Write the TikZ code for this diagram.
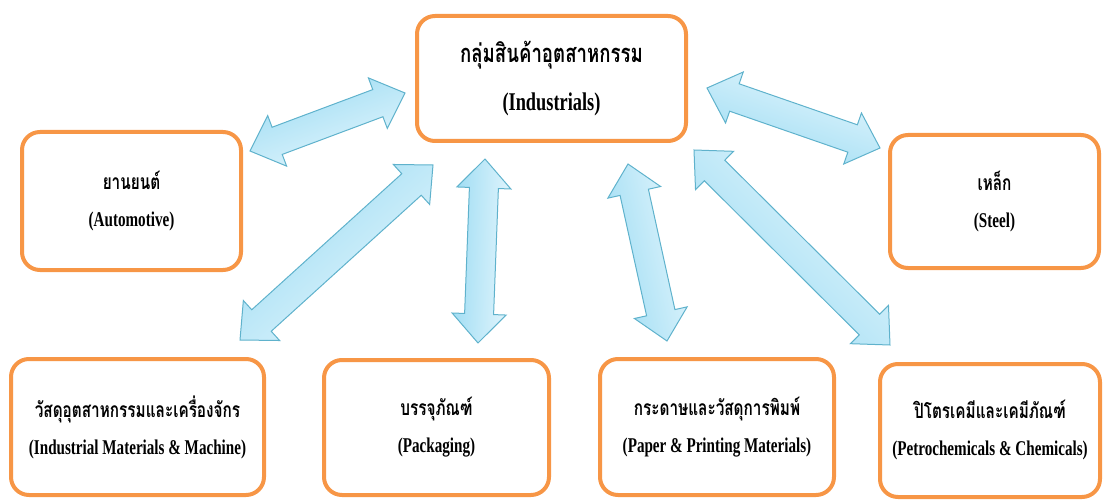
\documentclass[tikz,border=0pt]{standalone}
\usepackage{fontspec}
\setmainfont{Liberation Serif}[FakeStretch=0.72]
\newfontfamily\thaifont[Script=Thai,FakeStretch=0.73]{Loma}
\usetikzlibrary{calc}

\definecolor{boxline}{HTML}{F79646}
\definecolor{arrowline}{HTML}{5FB2CC}
\definecolor{arrowdark}{HTML}{9DDCF3}
\definecolor{arrowlight}{HTML}{E4F6FD}

\tikzset{
  catbox/.style={draw=boxline, line width=4pt, rounded corners=18pt, fill=white,
    align=center, font=\fontsize{21}{37}\selectfont\bfseries},
  hubbox/.style={catbox, font=\fontsize{25.5}{48}\selectfont\bfseries},
  arrowbody/.style={draw=arrowline, line width=1pt, line join=miter,
    left color=arrowdark, right color=arrowlight}
}

% block arrow with a head at both ends
\newcommand{\headlen}{29pt}
\newcommand{\headhalf}{27pt}
\newcommand{\shafthalf}{14.5pt}
\newcommand{\biarrow}[2]{%
  \path let \p1=(#2), \p2=(#1), \n1={atan2(\y2-\y1,\x2-\x1)} in
    \pgfextra{\xdef\arrowang{\n1}};
  \path[arrowbody, shading angle=\arrowang]
    (#1) -- ($(#1)!\headlen!(#2)!\headhalf!90:(#2)$)
    -- ($(#1)!\headlen!(#2)!\shafthalf!90:(#2)$)
    -- ($(#2)!\headlen!(#1)!\shafthalf!-90:(#1)$)
    -- ($(#2)!\headlen!(#1)!\headhalf!-90:(#1)$)
    -- (#2)
    -- ($(#2)!\headlen!(#1)!\headhalf!90:(#1)$)
    -- ($(#2)!\headlen!(#1)!\shafthalf!90:(#1)$)
    -- ($(#1)!\headlen!(#2)!\shafthalf!-90:(#2)$)
    -- ($(#1)!\headlen!(#2)!\headhalf!-90:(#2)$)
    -- cycle;
}

\begin{document}
\begin{tikzpicture}[x=1pt, y=-1pt]
\useasboundingbox (0,0) rectangle (1104,500);

% Centre box
\node[hubbox, minimum width=269, minimum height=125] (hub) at (551.5,78.5)
  {{\thaifont กลุ่มสินค้าอุตสาหกรรม}\\(Industrials)};

% Sector boxes
\node[catbox, minimum width=219, minimum height=138] (auto) at (131.5,201)
  {{\thaifont ยานยนต์}\\(Automotive)};
\node[catbox, minimum width=209, minimum height=133] (steel) at (994.5,201.5)
  {{\thaifont เหล็ก}\\(Steel)};
\node[catbox, minimum width=253, minimum height=136] (indmat) at (137.5,427)
  {{\thaifont วัสดุอุตสาหกรรมและเครื่องจักร}\\(Industrial Materials \& Machine)};
\node[catbox, minimum width=225, minimum height=135] (pack) at (436.5,427.5)
  {{\thaifont บรรจุภัณฑ์}\\(Packaging)};
\node[catbox, minimum width=234, minimum height=136] (paper) at (717,427)
  {{\thaifont กระดาษและวัสดุการพิมพ์}\\(Paper \& Printing Materials)};
\node[catbox, minimum width=220, minimum height=133] (petro) at (990,430.5)
  {{\thaifont ปิโตรเคมีและเคมีภัณฑ์}\\(Petrochemicals \& Chemicals)};

% Arrow ends
\coordinate (hubA) at ($(hub.west)+(-10,14.5)$);
\coordinate (hubB) at ($(hub.south west)+(18,22)$);
\coordinate (hubC) at ($(hub.south west)+(70,16)$);
\coordinate (hubD) at ($(hub.south east)+(-60,21)$);
\coordinate (hubE) at ($(hub.south east)+(6,7)$);
\coordinate (hubF) at ($(hub.east)+(19,9.5)$);
\coordinate (autoEnd) at ($(auto.north east)+(7,21)$);
\coordinate (indmatEnd) at ($(indmat.north east)+(-26,-17)$);
\coordinate (packEnd) at ($(pack.north)+(41.5,-15)$);
\coordinate (paperEnd) at ($(paper.north)+(-50,-16)$);
\coordinate (petroEnd) at ($(petro.north west)+(12,-17)$);
\coordinate (steelEnd) at ($(steel.north west)+(-8,15)$);

% Links
\biarrow{hubA}{autoEnd}
\biarrow{hubB}{indmatEnd}
\biarrow{hubC}{packEnd}
\biarrow{hubD}{paperEnd}
\biarrow{hubE}{petroEnd}
\biarrow{hubF}{steelEnd}

\end{tikzpicture}
\end{document}
